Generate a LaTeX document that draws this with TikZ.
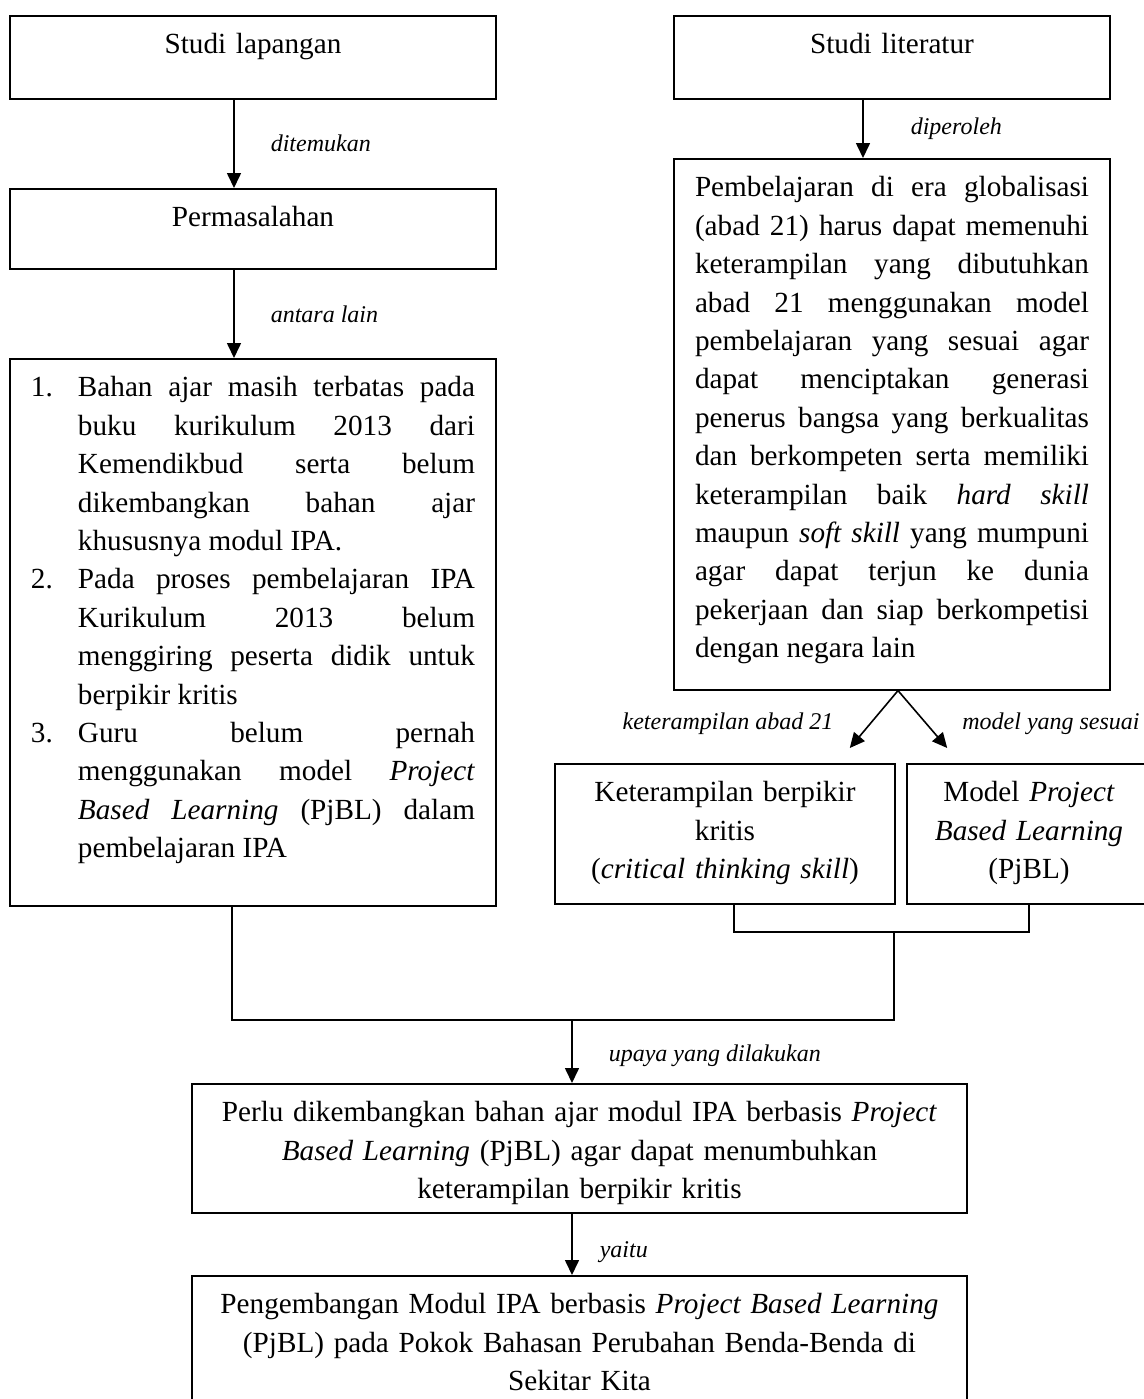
\documentclass[tikz,border=0pt]{standalone}
\usepackage{fontspec}
\setmainfont{Liberation Serif}
\usepackage{tikz}
\usetikzlibrary{arrows.meta}
\newcommand{\boxfont}{\fontsize{14.6pt}{19.2pt}\selectfont}
\newcommand{\lblfont}{\fontsize{12pt}{14pt}\selectfont\itshape}
\newcommand{\numitem}[1]{\noindent\hangindent=23.5pt\hangafter=1\hbox to 23.5pt{#1\hfil}}
\tolerance=10000
\hyphenpenalty=10000
\tikzstyle{box}=[draw,line width=0.8pt,anchor=north,inner sep=0pt,text height=19pt,font=\boxfont]
\tikzstyle{flowedge}=[draw,line width=0.8pt,-{Triangle[width=7pt,length=7.5pt]}]
\tikzstyle{plainedge}=[draw,line width=0.8pt]
\tikzstyle{lbl}=[font=\lblfont,inner sep=0pt]

\begin{document}
\begin{tikzpicture}[x=0.5pt,y=-0.5pt]
    \useasboundingbox (0,0) rectangle (1144,1399);

    % left column
    \node[box,text width=243pt,align=center,text depth=22.5pt] (lap) at (253,15) {Studi lapangan};
    \node[box,text width=243pt,align=center,text depth=21pt] (mas) at (253,188) {Permasalahan};
    \node[box,text width=222pt,inner xsep=10.5pt,align=justify,text depth=254.5pt] (list) at (253,358)
        {\numitem{1.}Bahan ajar masih terbatas pada\linebreak buku kurikulum 2013 dari\linebreak
         Kemendikbud serta belum\linebreak dikembangkan bahan ajar\linebreak khususnya modul IPA.\par
         \numitem{2.}Pada proses pembelajaran IPA\linebreak Kurikulum 2013 belum\linebreak
         menggiring peserta didik untuk\linebreak berpikir kritis\par
         \numitem{3.}Guru belum pernah\linebreak menggunakan model \textit{Project}\linebreak
         \textit{Based Learning} (PjBL) dalam\linebreak pembelajaran IPA\par};

    % right column
    \node[box,text width=218pt,align=center,text depth=22.5pt] (lit) at (892,15) {Studi literatur};
    \node[box,text width=197pt,inner xsep=10.5pt,align=justify,text depth=246.5pt] (glob) at (892,158)
        {Pembelajaran di era globalisasi\linebreak (abad 21) harus dapat memenuhi\linebreak
         keterampilan yang dibutuhkan\linebreak abad 21 menggunakan model\linebreak
         pembelajaran yang sesuai agar\linebreak dapat menciptakan generasi\linebreak
         penerus bangsa yang berkualitas\linebreak dan berkompeten serta memiliki\linebreak
         keterampilan baik \textit{hard skill}\linebreak maupun \textit{soft skill} yang mumpuni\linebreak
         agar dapat terjun ke dunia\linebreak pekerjaan dan siap berkompetisi\linebreak
         dengan negara lain\par};
    \node[box,text width=170pt,align=center,text depth=51pt] (kritis) at (725,763)
        {Keterampilan berpikir\\kritis\\(\textit{critical thinking skill})};
    \node[box,text width=122pt,align=center,text depth=51pt] (pjbl) at (1029,763)
        {Model \textit{Project}\\\textit{Based Learning}\\(PjBL)};

    % bottom
    \node[box,text width=387.5pt,align=center,text depth=45.5pt] (perlu) at (579.5,1083)
        {Perlu dikembangkan bahan ajar modul IPA berbasis \textit{Project}\\
         \textit{Based Learning} (PjBL) agar dapat menumbuhkan\\keterampilan berpikir kritis};
    \node[box,text width=387.5pt,align=center,text depth=53.5pt] (hasil) at (579.5,1275)
        {Pengembangan Modul IPA berbasis \textit{Project Based Learning}\\
         (PjBL) pada Pokok Bahasan Perubahan Benda-Benda di\\Sekitar Kita};

    % arrows with their labels
    \path[flowedge] ([xshift=-9.5pt]lap.south) -- node[lbl,right=18pt] {ditemukan} ([xshift=-9.5pt]mas.north);
    \path[flowedge] ([xshift=-9.5pt]mas.south) -- node[lbl,right=18pt] {antara lain} ([xshift=-9.5pt]list.north);
    \path[flowedge] ([xshift=-14.5pt]lit.south) -- node[lbl,right=23.5pt] {diperoleh} ([xshift=-14.5pt]glob.north);
    \path[flowedge] ([xshift=3pt]glob.south) -- node[lbl,pos=0.58,left=18pt] {keterampilan abad 21}
        ([xshift=-23pt,yshift=7.5pt]kritis.north east);
    \path[flowedge] ([xshift=3pt]glob.south) -- node[lbl,pos=0.58,right=17.5pt] {model yang sesuai}
        ([xshift=20.5pt,yshift=7.5pt]pjbl.north west);

    % joining lines
    \coordinate (bar) at (894,932);
    \coordinate (base) at (572,1020);
    \path[plainedge] ([xshift=4.5pt]kritis.south) |- (bar) -| (pjbl.south);
    \path[plainedge] (bar) |- (base);
    \path[plainedge] ([xshift=-10.5pt]list.south) |- (base);

    \path[flowedge] (base) -- node[lbl,pos=0.57,right=18pt] {upaya yang dilakukan} (base |- perlu.north);
    \path[flowedge] ([xshift=-3.75pt]perlu.south) -- node[lbl,pos=0.62,right=13.5pt] {yaitu} ([xshift=-3.75pt]hasil.north);

\end{tikzpicture}
\end{document}
